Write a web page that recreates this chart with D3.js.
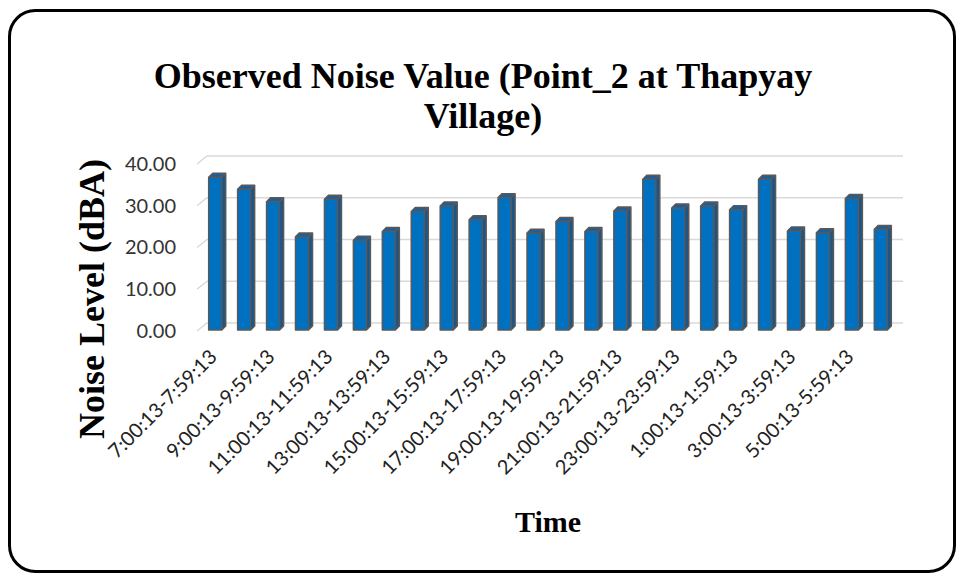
<!DOCTYPE html>
<html>
<head>
<meta charset="utf-8">
<script src="https://cdn.jsdelivr.net/npm/d3@7"></script>
<style>
    body { margin: 0; background: #fff; }
</style>
</head>
<body>
<svg id="chart" width="960" height="573"></svg>
<script>
// hourly slots, 7:00 to 6:00 next day
const categories = [
    '7:00:13-7:59:13', '8:00:13-8:59:13', '9:00:13-9:59:13', '10:00:13-10:59:13',
    '11:00:13-11:59:13', '12:00:13-12:59:13', '13:00:13-13:59:13', '14:00:13-14:59:13',
    '15:00:13-15:59:13', '16:00:13-16:59:13', '17:00:13-17:59:13', '18:00:13-18:59:13',
    '19:00:13-19:59:13', '20:00:13-20:59:13', '21:00:13-21:59:13', '22:00:13-22:59:13',
    '23:00:13-23:59:13', '0:00:13-0:59:13', '1:00:13-1:59:13', '2:00:13-2:59:13',
    '3:00:13-3:59:13', '4:00:13-4:59:13', '5:00:13-5:59:13', '6:00:13-6:59:13'
];
const noiseValues = [
    36.6, 33.7, 30.7, 22.3, 31.3, 21.5, 23.6, 28.4, 29.7, 26.4, 31.7, 23.2,
    26.0, 23.6, 28.5, 36.1, 29.2, 29.7, 28.8, 36.1, 23.7, 23.3, 31.5, 24.1
];
const yTicks = [0, 10, 20, 30, 40];
const titleLines = ['Observed Noise Value (Point_2 at Thapyay', 'Village)'];

const svg = d3.select('#chart');

// outer rounded frame
svg.append('rect')
    .attr('x', 9.5)
    .attr('y', 10.5)
    .attr('width', 945)
    .attr('height', 561)
    .attr('rx', 26)
    .attr('fill', '#fff')
    .attr('stroke', '#000')
    .attr('stroke-width', 3);

// front plane of the plot, back wall is shifted by depth
const plot = { left: 197, right: 893, bottom: 331, top: 164 };
const wall = { dx: 10, dy: -8 };
const barDepth = { dx: 4, dy: -4 };

const x = d3.scaleBand()
    .domain(categories)
    .range([plot.left, plot.right])
    .paddingInner(0.55)
    .paddingOuter(0.3);

const y = d3.scaleLinear()
    .domain([0, 40])
    .range([plot.bottom, plot.top]);

// gridlines: side wall diagonal + back wall
const grid = svg.append('g');
yTicks.forEach((t) => {
    grid.append('path')
        .attr('d', `M${plot.left},${y(t)} L${plot.left + wall.dx},${y(t) + wall.dy} L${plot.right + wall.dx},${y(t) + wall.dy}`)
        .attr('fill', 'none')
        .attr('stroke', '#d9d9d9')
        .attr('stroke-width', 1.5);
});

const yAxis = d3.axisLeft(y)
    .tickValues(yTicks)
    .tickFormat(d3.format('.2f'))
    .tickSize(0)
    .tickPadding(0);

const yG = svg.append('g')
    .attr('transform', `translate(${plot.left - 21},0)`)
    .call(yAxis);
yG.select('.domain').remove();
yG.selectAll('text')
    .attr('font-family', 'Lato, sans-serif')
    .attr('font-size', 20)
    .attr('fill', '#333');

// bars (pseudo 3d)
const barOff = { dx: 3, dy: -1 };
const bars = svg.append('g')
    .selectAll('g')
    .data(noiseValues)
    .enter()
    .append('g');

bars.each(function (d, i) {
    let g = d3.select(this);
    let x0 = x(categories[i]) + barOff.dx;
    let x1 = x0 + x.bandwidth();
    let y0 = y(0) + barOff.dy;
    let y1 = y(d) + barOff.dy;
    let dx = barDepth.dx, dy = barDepth.dy;

    g.append('polygon')
        .attr('points', [[x1, y0], [x1 + dx, y0 + dy], [x1 + dx, y1 + dy], [x1, y1]].join(' '))
        .attr('fill', '#1d5587');
    g.append('polygon')
        .attr('points', [[x0, y1], [x0 + dx, y1 + dy], [x1 + dx, y1 + dy], [x1, y1]].join(' '))
        .attr('fill', '#1f5f99');
    g.append('rect')
        .attr('x', x0)
        .attr('y', y1)
        .attr('width', x1 - x0)
        .attr('height', y0 - y1)
        .attr('fill', '#0070c0');
    g.append('path')
        .attr('d', `M${x0},${y0} L${x0},${y1} L${x0 + dx},${y1 + dy} L${x1 + dx},${y1 + dy} L${x1 + dx},${y0 + dy} L${x1},${y0} Z M${x1},${y0} L${x1},${y1} L${x1 + dx},${y1 + dy} M${x1},${y1} L${x0},${y1}`)
        .attr('fill', 'none')
        .attr('stroke', '#595959')
        .attr('stroke-width', 1.5)
        .attr('stroke-linejoin', 'round');
});

// category labels, every second one like excel does
svg.append('g')
    .selectAll('text')
    .data(categories.filter((c, i) => i % 2 == 0))
    .enter()
    .append('text')
    .attr('transform', d => {
        let cx = x(d) + x.bandwidth() / 2 + 6;
        return `translate(${cx},358) rotate(-45)`;
    })
    .attr('text-anchor', 'end')
    .attr('font-family', 'Lato, sans-serif')
    .attr('font-size', 20)
    .attr('fill', '#222')
    .text(d => d);

// titles
svg.append('text')
    .attr('x', 483)
    .attr('text-anchor', 'middle')
    .attr('font-family', '"Liberation Serif", "Times New Roman", serif')
    .attr('font-weight', 'bold')
    .attr('font-size', 36)
    .selectAll('tspan')
    .data(titleLines)
    .enter()
    .append('tspan')
    .attr('x', 483)
    .attr('y', (d, i) => 88 + i * 40)
    .text(d => d);

svg.append('text')
    .attr('transform', 'translate(104,299) rotate(-90)')
    .attr('text-anchor', 'middle')
    .attr('font-family', '"Liberation Serif", "Times New Roman", serif')
    .attr('font-weight', 'bold')
    .attr('font-size', 36)
    .text('Noise Level (dBA)');

svg.append('text')
    .attr('x', 548)
    .attr('y', 532)
    .attr('text-anchor', 'middle')
    .attr('font-family', '"Liberation Serif", "Times New Roman", serif')
    .attr('font-weight', 'bold')
    .attr('font-size', 30)
    .text('Time');
</script>
</body>
</html>
